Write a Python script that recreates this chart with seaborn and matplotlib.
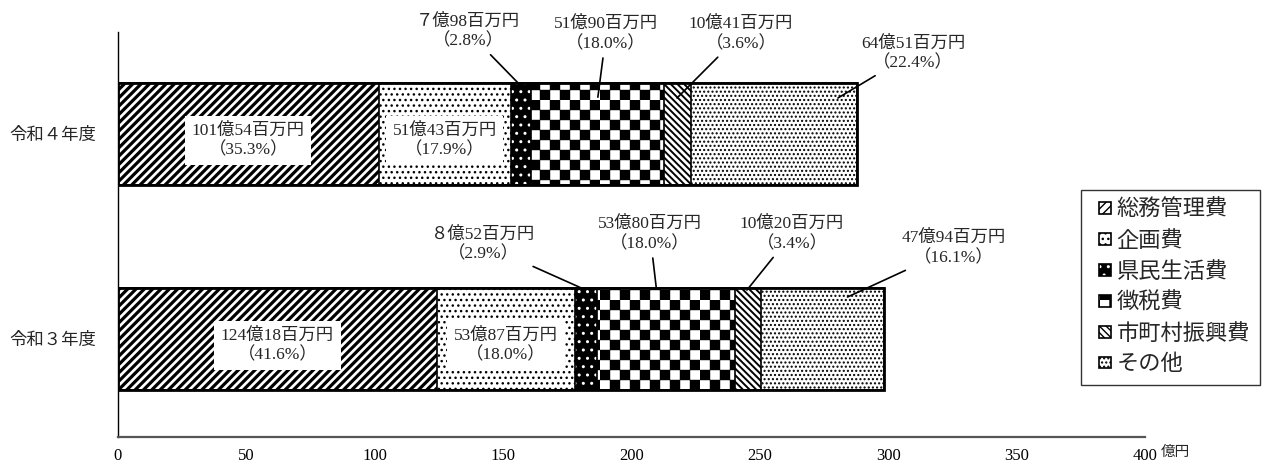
import warnings
warnings.filterwarnings('ignore')
import matplotlib
matplotlib.use('Agg')
import matplotlib.pyplot as plt
import matplotlib.hatch as mhatch
from matplotlib.path import Path
from matplotlib.patches import Rectangle
from matplotlib.legend_handler import HandlerPatch
import numpy as np
import pandas as pd
import seaborn as sns

# ---------------- data ----------------
years = ['令和４年度', '令和３年度']
items = ['総務管理費', '企画費', '県民生活費', '徴税費', '市町村振興費', 'その他']
values_r4 = [101.54, 51.43, 7.98, 51.90, 10.41, 64.51]
values_r3 = [124.18, 53.87, 8.52, 53.80, 10.20, 47.94]
xticks = [0, 50, 100, 150, 200, 250, 300, 350, 400]
unit_label = '億円'

# ---------------- custom checker hatch ----------------
class CheckerHatch(mhatch.HatchPatternBase):
    filled = True

    def __init__(self, hatch, density):
        self.n = 10 if 'c' in hatch else 0
        self.num_vertices = (self.n * self.n // 2) * 5

    def set_vertices_and_codes(self, vertices, codes):
        n = self.n
        s = 1.0 / n
        k = 0
        for i in range(n):
            for j in range(n):
                if (i + j) % 2 == 0:
                    x0, y0 = i * s, j * s
                    vertices[k:k + 5] = [(x0, y0), (x0 + s, y0), (x0 + s, y0 + s),
                                         (x0, y0 + s), (x0, y0)]
                    codes[k:k + 5] = [Path.MOVETO, Path.LINETO, Path.LINETO,
                                      Path.LINETO, Path.CLOSEPOLY]
                    k += 5

mhatch._hatch_types.append(CheckerHatch)

# ---------------- style ----------------
sns.set_style('white')
plt.rcParams['font.family'] = ['Liberation Serif', 'Noto Sans CJK JP', 'DejaVu Sans']
plt.rcParams['hatch.linewidth'] = 1.0

hatches = ['////', '...', '..', 'c', '\\\\\\\\\\', '....']
hatch_lw = [2.3, 1.0, 1.0, 0.3, 1.4, 1.0]
faces = ['white', 'white', 'black', 'white', 'white', 'white']

fig = plt.figure(figsize=(12.75, 4.68), dpi=100)
ax = fig.add_axes([118 / 1275, 31 / 468, 1027 / 1275, 405 / 468])

vals = np.array([values_r4, values_r3])
cum = np.cumsum(vals, axis=1)
totals = cum[:, -1]

seg_patches = {}
for k in range(len(items) - 1, -1, -1):
    sns.barplot(x=cum[:, k], y=years, orient='h', ax=ax, color='white',
                saturation=1, edgecolor='black', linewidth=1.2, width=0.5)
    cont = ax.containers[-1]
    for p in cont.patches:
        p.set_facecolor(faces[k])
        p.set_hatch(hatches[k])
        if hasattr(p, 'set_hatch_linewidth'):
            p.set_hatch_linewidth(hatch_lw[k])
        if faces[k] == 'black':
            p._hatch_color = (1, 1, 1, 1)
    seg_patches[k] = cont.patches[0]

# outer outline
sns.barplot(x=totals, y=years, orient='h', ax=ax, color='white', saturation=1,
            edgecolor='black', linewidth=2.0, width=0.5)
for p in ax.containers[-1].patches:
    p.set_facecolor('none')

if ax.get_legend() is not None:
    ax.get_legend().remove()

ax.set_xlim(0, 400)
ax.set_ylim(1.478, -0.498)
ax.set_xticks(xticks)
ax.set_xticklabels([str(t) for t in xticks])
ax.set_xlabel('')
ax.set_ylabel('')
for s in ['top', 'right']:
    ax.spines[s].set_visible(False)
ax.spines['left'].set_linewidth(1.0)
ax.spines['left'].set_color('black')
ax.spines['bottom'].set_linewidth(1.6)
ax.spines['bottom'].set_color('#555555')
ax.tick_params(axis='x', direction='in', length=4, width=0.8, labelsize=12, pad=8,
               colors='black')
ax.tick_params(axis='y', length=0, labelsize=12.5, pad=16)

fig.text(1175 / 1275, 1 - 452 / 468, unit_label, ha='center', va='center', fontsize=10.5)

# ---------------- labels ----------------
def money(v):
    oku = int(v)
    hyaku = int(round((v - oku) * 100))
    oku_s = chr(0xFF10 + oku) if oku < 10 else str(oku)
    return f'{oku_s}億{hyaku:02d}百万円'

inside_dy = 0.03
callout_text = {
    0: {2: (136.3, -0.50), 3: (190.1, -0.488), 4: (242.6, -0.488), 5: (309.6, -0.395)},
    1: {2: (142.2, 0.537), 3: (207.2, 0.488), 4: (262.5, 0.488), 5: (325.6, 0.556)},
}
callout_frac = {
    0: {2: 0.35, 3: 0.50, 4: 0.47, 5: 0.886},
    1: {2: 0.22, 3: 0.43, 4: 0.45, 5: 0.70},
}
callout_ey = {
    0: {2: -0.25, 3: -0.18, 4: -0.176, 5: -0.176},
    1: {2: 0.748, 3: 0.756, 4: 0.761, 5: 0.795},
}

for r in range(len(years)):
    for k in range(len(items)):
        v = vals[r, k]
        left = cum[r, k] - v
        txt = f'{money(v)}\n（{v / totals[r] * 100:.1f}%）'
        if k < 2:
            ax.text(left + v / 2, r + inside_dy, txt, ha='center', va='center',
                    fontsize=12.5, linespacing=1.25,
                    bbox=dict(boxstyle='square,pad=0.38', fc='white', ec='none'))
        else:
            tx, ty = callout_text[r][k]
            ex = left + v * callout_frac[r][k]
            ey = callout_ey[r][k]
            ax.annotate(txt, xy=(ex, ey), xytext=(tx, ty), ha='center', va='center',
                        fontsize=12.5, linespacing=1.25, annotation_clip=False,
                        arrowprops=dict(arrowstyle='-', color='black', lw=1.2,
                                        shrinkA=2, shrinkB=0))

# ---------------- legend ----------------
def small_square(legend, orig_handle, xdescent, ydescent, width, height, fontsize):
    s = height
    return Rectangle((-xdescent + width - s, -ydescent), s, s)

handles = [seg_patches[k] for k in range(len(items))]
leg = fig.legend(handles, items, loc='upper left',
                 bbox_to_anchor=(1081 / 1275, 1 - 190 / 468), borderaxespad=0,
                 fontsize=16, frameon=True, fancybox=False, framealpha=1,
                 edgecolor='#333333', handlelength=0.9, handleheight=0.45,
                 handletextpad=0.25, labelspacing=0.45, borderpad=0.45,
                 handler_map={Rectangle: HandlerPatch(patch_func=small_square)})
leg.get_frame().set_linewidth(1.0)

fig.savefig('out.png', dpi=100)
